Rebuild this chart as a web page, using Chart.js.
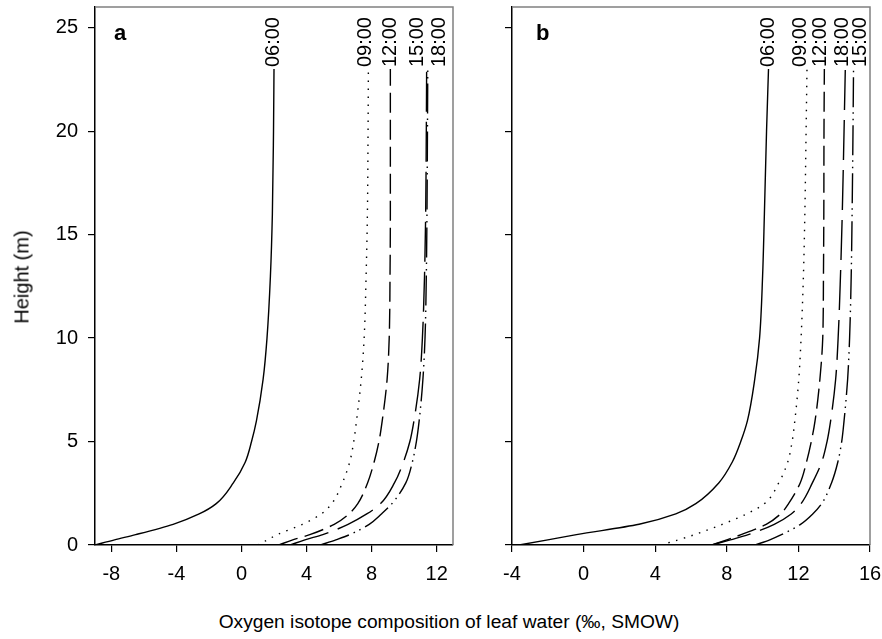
<!DOCTYPE html>
<html>
<head>
<meta charset="utf-8">
<script src="https://cdn.jsdelivr.net/npm/chart.js@4.4.1/dist/chart.umd.min.js"></script>
<style>
  body { margin: 0; background: #fff; width: 882px; height: 639px; position: relative; overflow: hidden;
         font-family: "Liberation Sans", Arial, sans-serif; }
  canvas { position: absolute; top: 0; }
  #chartA { left: 0; }
  #chartB { left: 460px; }
  .ytitle { position: absolute; left: 22px; top: 277px; transform: translate(-50%, -50%) rotate(-90deg);
            font-size: 20px; white-space: nowrap; }
  .xtitle { position: absolute; left: 449px; top: 622px; transform: translate(-50%, -50%);
            font-size: 19.2px; white-space: nowrap; }
</style>
</head>
<body>
<canvas id="chartA" width="460" height="600"></canvas>
<canvas id="chartB" width="422" height="600"></canvas>
<div class="ytitle">Height (m)</div>
<div class="xtitle">Oxygen isotope composition of leaf water (‰, SMOW)</div>
<script>
// heights (m) at which each profile is sampled
const heights = [0, 0.25, 0.5, 1, 1.5, 2, 3, 4, 5, 6, 8, 10, 13, 16, 20, 23];
const times = ["06:00", "09:00", "12:00", "15:00", "18:00"];
const yTicks = [0, 5, 10, 15, 20, 25];

// panel a: leaf water d18O profiles
const a0600 = [-9.0, -7.8, -6.5, -4.2, -2.6, -1.55, -0.5, 0.23, 0.62, 0.92, 1.33, 1.57, 1.78, 1.9, 1.97, 2.0];
const a0900 = [1.0, 1.6, 2.2, 3.75, 4.9, 5.55, 6.2, 6.65, 6.9, 7.07, 7.36, 7.54, 7.66, 7.74, 7.78, 7.8];
const a1200 = [2.3, 3.15, 4.2, 5.7, 6.6, 7.15, 7.75, 8.15, 8.45, 8.65, 8.95, 9.08, 9.13, 9.15, 9.15, 9.15];
const a1500 = [4.86, 5.8, 6.65, 7.85, 8.6, 9.25, 10.1, 10.5, 10.75, 10.92, 11.15, 11.28, 11.36, 11.4, 11.43, 11.45];
const a1800 = [3.0, 3.9, 5.0, 6.55, 7.7, 8.55, 9.4, 9.95, 10.35, 10.6, 10.95, 11.12, 11.25, 11.32, 11.36, 11.38];
const aLabelX = [1.97, 7.63, 9.17, 10.83, 12.18];
const aXTicks = [-8, -4, 0, 4, 8, 12];

// panel b
const b0600 = [-3.6, -2.0, -0.4, 3.1, 5.15, 6.27, 7.55, 8.3, 8.78, 9.15, 9.56, 9.83, 10.0, 10.1, 10.22, 10.33];
const b0900 = [4.3, 5.3, 6.2, 7.75, 9.1, 10.1, 10.9, 11.4, 11.65, 11.8, 12.02, 12.15, 12.28, 12.36, 12.43, 12.48];
const b1200 = [7.17, 8.0, 8.8, 10.2, 11.0, 11.45, 12.1, 12.45, 12.72, 12.93, 13.2, 13.36, 13.4, 13.42, 13.43, 13.45];
const b1500 = [9.59, 10.4, 11.05, 12.12, 12.8, 13.3, 13.85, 14.2, 14.42, 14.55, 14.75, 14.86, 14.95, 15.0, 15.05, 15.08];
const b1800 = [7.17, 8.2, 9.2, 10.65, 11.6, 12.15, 12.78, 13.3, 13.6, 13.8, 14.08, 14.22, 14.35, 14.45, 14.55, 14.62];
const bLabelX = [10.32, 12.11, 13.22, 15.46, 14.45];
const bXTicks = [-4, 0, 4, 8, 12, 16];

const FONT = '"Liberation Sans", Arial, sans-serif';

// line style per time of day
const dashes = {
  "06:00": [],
  "09:00": [1.5, 6.5],
  "12:00": [20, 7],
  "15:00": [30, 5, 1.5, 5, 1.5, 5],
  "18:00": [40, 10]
};

const panelDecor = {
  id: "panelDecor",
  beforeDatasetsDraw(chart) {
    const { ctx, chartArea: a } = chart;
    ctx.save();
    ctx.strokeStyle = "#808080";
    ctx.lineWidth = 1.5;
    ctx.beginPath();
    ctx.moveTo(a.left, a.top);
    ctx.lineTo(a.right, a.top);
    ctx.lineTo(a.right, a.bottom);
    ctx.stroke();
    ctx.restore();
  },
  afterDatasetsDraw(chart, args, opts) {
    const { ctx, chartArea: a } = chart;
    const xs = chart.scales.x, ys = chart.scales.y;
    ctx.save();
    ctx.fillStyle = "#000";
    ctx.font = "20px " + FONT;
    ctx.textAlign = "left";
    ctx.textBaseline = "middle";
    chart.data.datasets.forEach((ds, i) => {
      const top = ds.data[ds.data.length - 1];
      const px = xs.getPixelForValue(opts.labelX[i]);
      const py = ys.getPixelForValue(top.y) - 2;
      ctx.save();
      ctx.translate(px, py);
      ctx.rotate(-Math.PI / 2);
      ctx.fillText(ds.label, 0, 0);
      ctx.restore();
    });
    ctx.font = "bold 22px " + FONT;
    ctx.textBaseline = "alphabetic";
    ctx.fillText(opts.letter, a.left + opts.letterDx, a.top + 33);
    ctx.restore();
  }
};

function makePanel(id, series, labelX, xMin, xMax, xTicks, showYLabels, yWidth, padRight, letter, letterDx) {
  const datasets = series.map((vals, i) => ({
    label: times[i],
    data: vals.map((v, k) => ({ x: v, y: heights[k] })),
    borderColor: "#000",
    borderWidth: 1.4,
    borderDash: dashes[times[i]],
    pointRadius: 0,
    fill: false,
    cubicInterpolationMode: "monotone",
    showLine: true
  }));

  new Chart(document.getElementById(id), {
    type: "scatter",
    data: { datasets },
    options: {
      indexAxis: "y",
      responsive: false,
      animation: false,
      devicePixelRatio: 1,
      layout: { padding: { top: 7, right: padRight, left: 0, bottom: 0 } },
      plugins: {
        legend: { display: false },
        tooltip: { enabled: false },
        panelDecor: { labelX, letter, letterDx }
      },
      scales: {
        x: {
          type: "linear",
          position: "bottom",
          min: xMin,
          max: xMax,
          afterBuildTicks: s => { s.ticks = xTicks.map(v => ({ value: v })); },
          afterFit: s => { s.height = 55; s.paddingLeft = 0; s.paddingRight = 0; },
          grid: { drawOnChartArea: false, drawTicks: true, tickLength: 7, color: "#000", lineWidth: 1.2 },
          border: { color: "#000", width: 1.5 },
          ticks: { color: "#000", font: { family: FONT, size: 20 }, padding: 10, maxRotation: 0 }
        },
        y: {
          type: "linear",
          position: "left",
          min: 0,
          max: 26,
          afterBuildTicks: s => { s.ticks = yTicks.map(v => ({ value: v })); },
          afterFit: s => { s.width = yWidth; s.paddingTop = 0; s.paddingBottom = 0; },
          grid: { drawOnChartArea: false, drawTicks: true, tickLength: 7, color: "#000", lineWidth: 1.2 },
          border: { color: "#000", width: 1.5 },
          ticks: {
            color: "#000",
            font: { family: FONT, size: 20 },
            padding: 10,
            callback: v => showYLabels ? v : ""
          }
        }
      }
    },
    plugins: [panelDecor]
  });
}

makePanel("chartA", [a0600, a0900, a1200, a1500, a1800], aLabelX, -9, 13, aXTicks, true, 95, 7, "a", 19);
makePanel("chartB", [b0600, b0900, b1200, b1500, b1800], bLabelX, -4, 16, bXTicks, false, 52, 12, "b", 24);
</script>
</body>
</html>
